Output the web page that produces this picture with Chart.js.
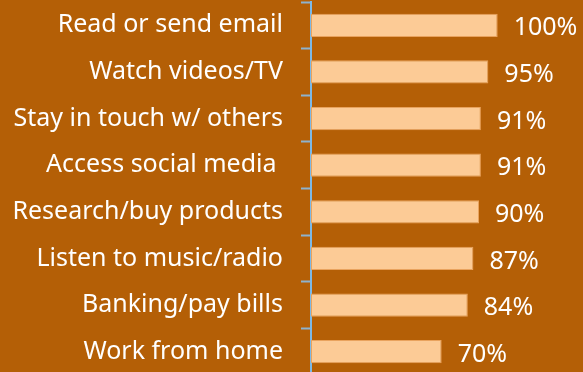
<!DOCTYPE html>
<html>
<head>
<meta charset="utf-8">
<script src="https://cdn.jsdelivr.net/npm/chart.js@4/dist/chart.umd.min.js"></script>
<style>
  html, body { margin: 0; padding: 0; background: #B45F06; overflow: hidden; }
  canvas { display: block; }
</style>
</head>
<body>
<canvas id="usageChart" width="583" height="375"></canvas>
<script>
// Share of users doing each activity
const activities = [
    'Read or send email',
    'Watch videos/TV',
    'Stay in touch w/ others',
    'Access social media ',
    'Research/buy products',
    'Listen to music/radio',
    'Banking/pay bills',
    'Work from home'
];
const shares = [100, 95, 91, 91, 90, 87, 84, 70];

const FONT = '"Noto Sans", "Open Sans", sans-serif';

// Percent labels just past the end of each bar
const valueLabels = {
    id: 'valueLabels',
    afterDatasetsDraw(chart) {
        const ctx = chart.ctx;
        const meta = chart.getDatasetMeta(0);
        ctx.save();
        ctx.font = '25px ' + FONT;
        ctx.fillStyle = '#ffffff';
        ctx.textAlign = 'left';
        ctx.textBaseline = 'middle';
        meta.data.forEach((bar, i) => {
            ctx.fillText(shares[i] + '%', bar.x + 16, bar.y + 3);
        });
        ctx.restore();
    }
};

new Chart(document.getElementById('usageChart'), {
    type: 'bar',
    data: {
        labels: activities,
        datasets: [{
            data: shares,
            backgroundColor: '#FCCB96',
            borderColor: '#E9A35E',
            borderWidth: 1,
            borderSkipped: false,
            categoryPercentage: 1,
            barPercentage: 0.5
        }]
    },
    options: {
        indexAxis: 'y',
        responsive: false,
        animation: false,
        layout: { padding: { top: 2, right: 0, bottom: 0, left: 0 } },
        plugins: {
            legend: { display: false },
            tooltip: { enabled: false },
            title: { display: false }
        },
        scales: {
            x: {
                display: false,
                min: 0,
                max: 145.7
            },
            y: {
                offset: true,
                grid: {
                    offset: true,
                    drawOnChartArea: false,
                    drawTicks: true,
                    tickLength: 10,
                    tickWidth: 2,
                    tickColor: '#8DB3CF'
                },
                border: { color: '#7DB9E6', width: 2 },
                ticks: {
                    color: '#ffffff',
                    padding: 18,
                    font: { size: 25, family: FONT }
                },
                afterFit(scale) {
                    scale.width = 311;
                    // labels sit inside their category bands, so no extra room above/below
                    scale.paddingTop = 0;
                    scale.paddingBottom = 0;
                }
            }
        }
    },
    plugins: [valueLabels]
});
</script>
</body>
</html>
